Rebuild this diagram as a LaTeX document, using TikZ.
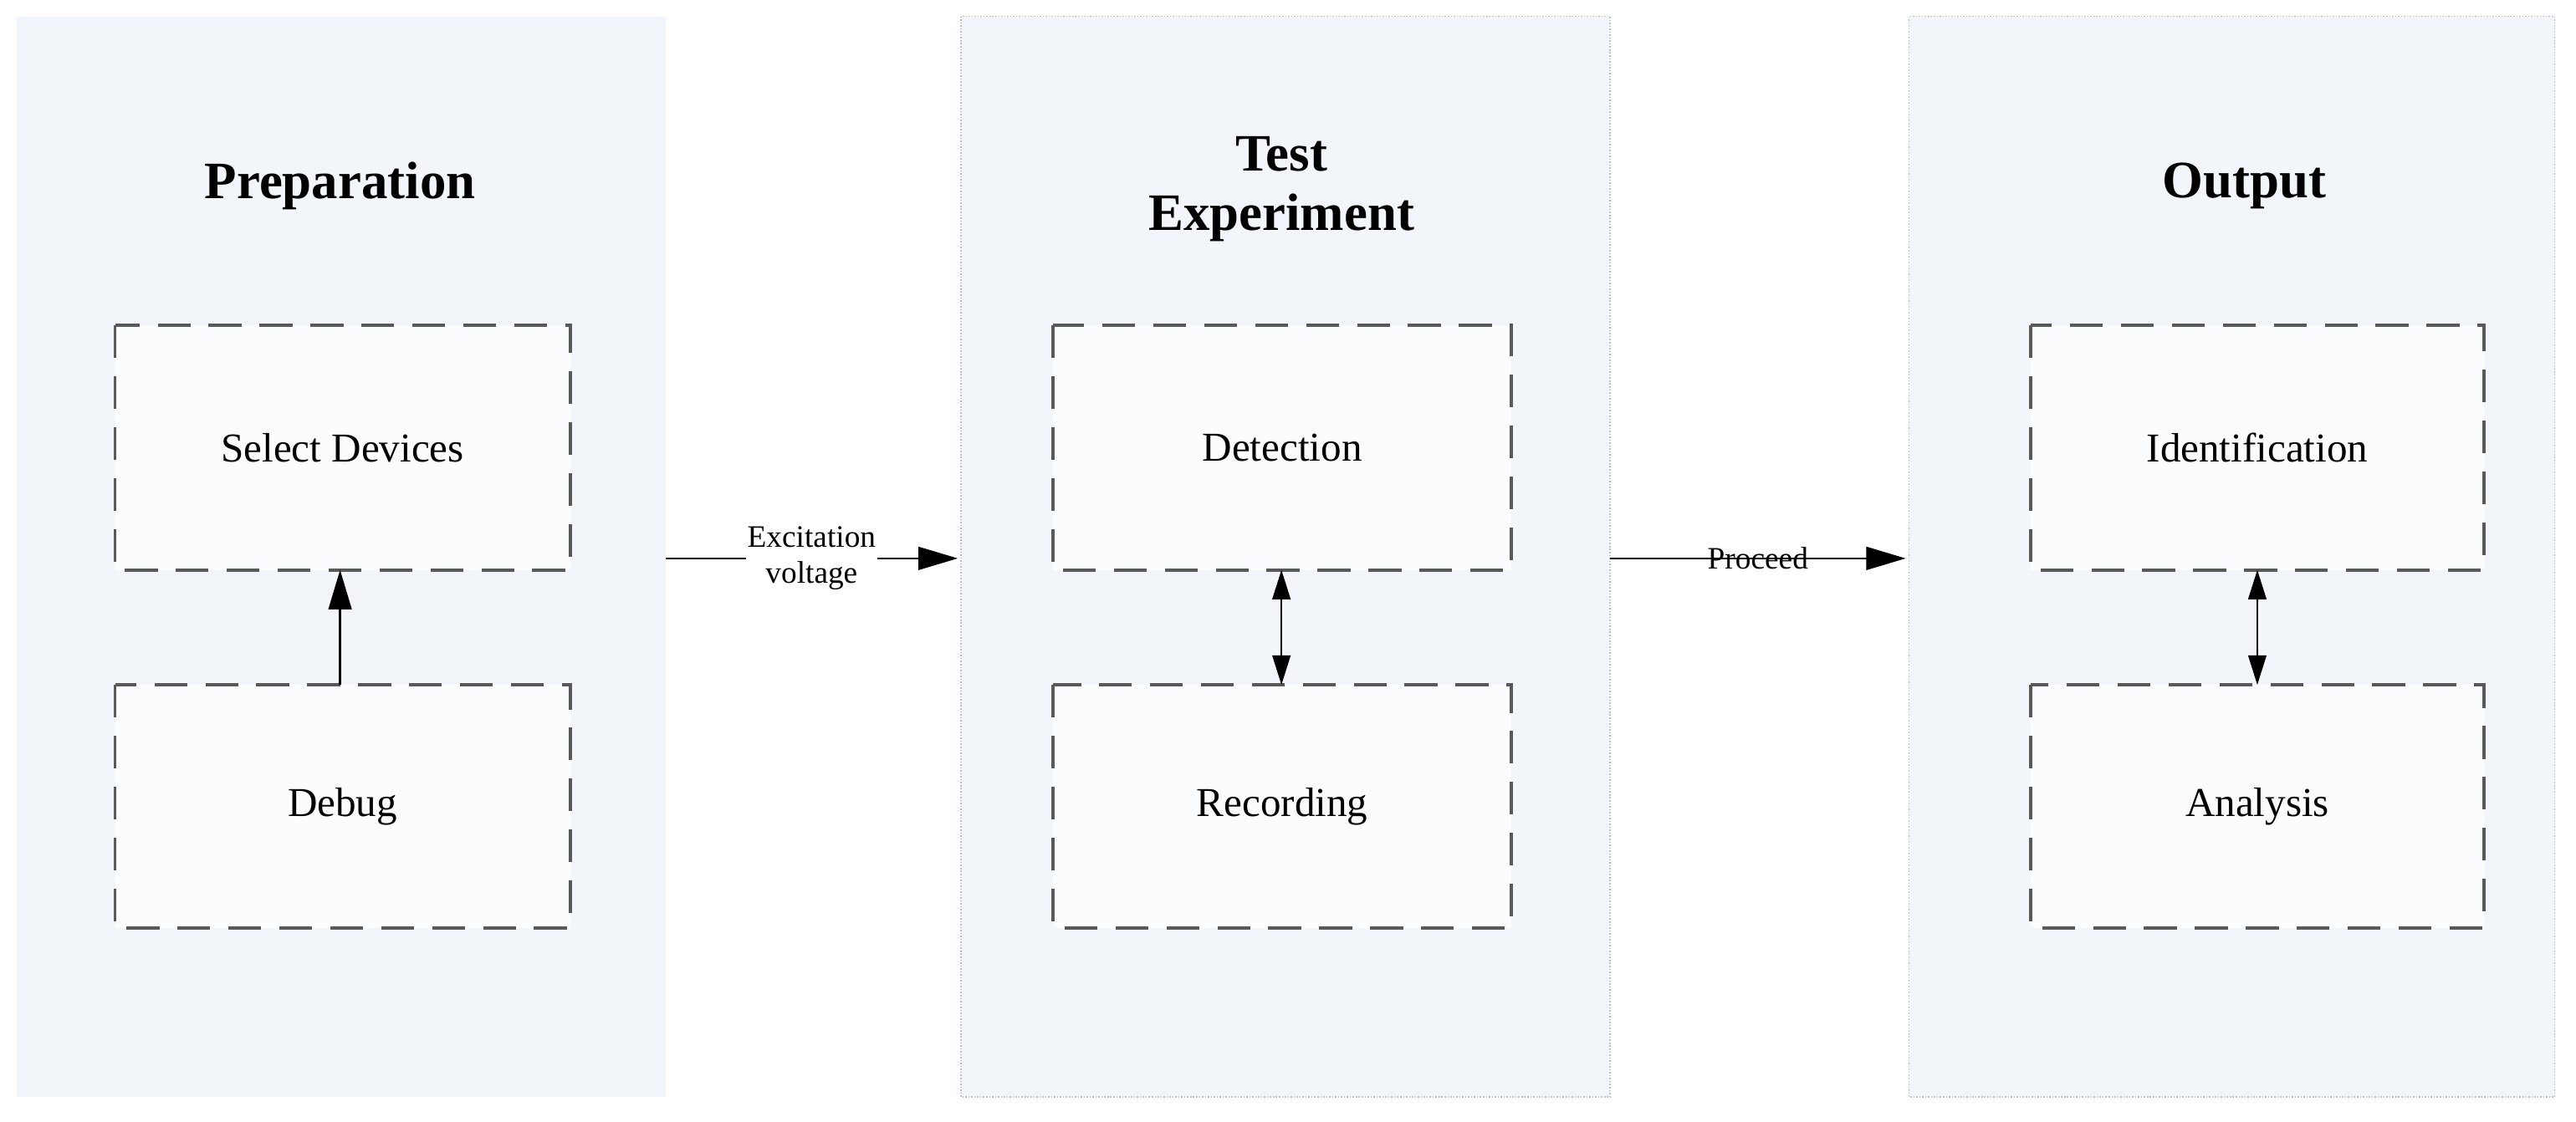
\documentclass[tikz,border=0pt]{standalone}
\usepackage{fontspec}
\setmainfont{Liberation Serif}
\usetikzlibrary{arrows.meta}
\begin{document}
\begin{tikzpicture}[x=1pt,y=-1pt,
 panel/.style={fill=panelc},
 dpanel/.style={fill=panelc,draw=gray!50,densely dotted,line width=0.8},
 box/.style={draw=gray!70!black,dash pattern=on 20 off 11,line width=2,fill=boxc},
 title/.style={font=\fontsize{32}{36}\selectfont\bfseries,align=center},
 lbl/.style={font=\fontsize{25}{28}\selectfont},
 small/.style={font=\fontsize{19}{22}\selectfont,align=center,fill=white,inner sep=1pt},
 arr/.style={-{Triangle[length=24,width=14]},line width=1.3},
 darr/.style={{Triangle[length=18,width=11]}-{Triangle[length=18,width=11]},line width=1.3}]
\definecolor{panelc}{HTML}{F2F5FA}
\definecolor{boxc}{HTML}{FBFCFE}
\useasboundingbox (0,0) rectangle (1568,683);
\fill[white] (0,0) rectangle (1568,683);
\path[panel] (10,10) rectangle (405,668);
\path[dpanel] (585,10) rectangle (980,668);
\path[dpanel] (1162,10) rectangle (1555,668);
\node[title] (t1) at (207,113) {Preparation};
\node[title] (t2) at (780,115) {Test\\Experiment};
\node[title] (t3) at (1366,113) {Output};
\draw[box] (70,198) rectangle node[lbl] (a1) {Select Devices} (347,347);
\draw[box] (70,417) rectangle node[lbl] (a2) {Debug} (347,565);
\draw[box] (641,198) rectangle node[lbl] (b1) {Detection} (920,347);
\draw[box] (641,417) rectangle node[lbl] (b2) {Recording} (920,565);
\draw[box] (1236,198) rectangle node[lbl] (c1) {Identification} (1512,347);
\draw[box] (1236,417) rectangle node[lbl] (c2) {Analysis} (1512,565);
\coordinate (p1) at (207,417); \coordinate (p2) at (207,347);
\draw[arr] (p1) -- (p2);
\coordinate (q1) at (780,347); \coordinate (q2) at (780,417);
\draw[darr] (q1) -- (q2);
\coordinate (r1) at (1374,347); \coordinate (r2) at (1374,417);
\draw[darr] (r1) -- (r2);
\coordinate (e1) at (405,340); \coordinate (e2) at (583,340);
\draw[arr] (e1) -- node[small,pos=0.5] (el) {Excitation\\voltage} (e2);
\coordinate (f1) at (980,340); \coordinate (f2) at (1160,340);
\draw[arr] (f1) -- node[small,fill=none] (fl) {Proceed} (f2);
\end{tikzpicture}
\end{document}
